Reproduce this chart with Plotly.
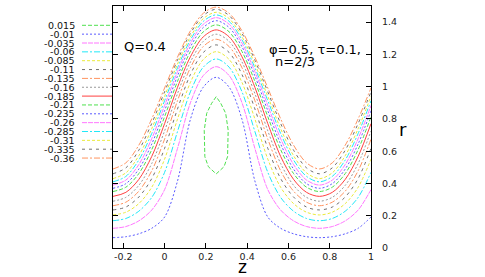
import plotly.graph_objects as go

# axial positions (z) shared by the open streamlines
z = [-0.25, -0.1875, -0.125, -0.0625, 0.0, 0.0625, 0.125, 0.1875, 0.25, 0.3125,
     0.375, 0.4375, 0.5, 0.5625, 0.625, 0.6875, 0.75, 0.8125, 0.875, 0.9375, 1.0]

# streamline labels (psi values)
labels = ["0.015", "-0.01", "-0.035", "-0.06", "-0.085", "-0.11", "-0.135", "-0.16",
          "-0.185", "-0.21", "-0.235", "-0.26", "-0.285", "-0.31", "-0.335", "-0.36"]

# closed (trapped bolus) streamline psi = 0.015
loop_z = [0.25, 0.228, 0.204, 0.192, 0.195, 0.212, 0.25, 0.288, 0.305, 0.308, 0.296, 0.272, 0.25]
loop_r = [0.938, 0.897, 0.835, 0.73, 0.566, 0.504, 0.459, 0.504, 0.566, 0.73, 0.835, 0.897, 0.938]

r_m001 = [0.064, 0.070, 0.088, 0.122, 0.192, 0.415, 0.797, 0.997, 1.058, 0.997, 0.797, 0.415, 0.192, 0.122, 0.088, 0.070, 0.064, 0.070, 0.088, 0.122, 0.192]
r_m035 = [0.122, 0.133, 0.168, 0.235, 0.362, 0.617, 0.900, 1.069, 1.124, 1.069, 0.900, 0.617, 0.362, 0.235, 0.168, 0.133, 0.122, 0.133, 0.168, 0.235, 0.362]
r_m060 = [0.169, 0.183, 0.228, 0.313, 0.469, 0.722, 0.968, 1.121, 1.172, 1.121, 0.968, 0.722, 0.469, 0.313, 0.228, 0.183, 0.169, 0.183, 0.228, 0.313, 0.469]
r_m085 = [0.205, 0.222, 0.275, 0.376, 0.551, 0.799, 1.026, 1.169, 1.217, 1.169, 1.026, 0.799, 0.551, 0.376, 0.275, 0.222, 0.205, 0.222, 0.275, 0.376, 0.551]
r_m110 = [0.236, 0.254, 0.316, 0.430, 0.618, 0.862, 1.075, 1.212, 1.259, 1.212, 1.075, 0.862, 0.618, 0.430, 0.316, 0.254, 0.236, 0.254, 0.316, 0.430, 0.618]
r_m135 = [0.262, 0.284, 0.352, 0.478, 0.675, 0.913, 1.117, 1.249, 1.294, 1.249, 1.117, 0.913, 0.675, 0.478, 0.352, 0.284, 0.262, 0.284, 0.352, 0.478, 0.675]
r_m160 = [0.290, 0.314, 0.388, 0.523, 0.726, 0.957, 1.153, 1.281, 1.325, 1.281, 1.153, 0.957, 0.726, 0.523, 0.388, 0.314, 0.290, 0.314, 0.388, 0.523, 0.726]
r_m185 = [0.320, 0.345, 0.425, 0.567, 0.771, 0.996, 1.185, 1.309, 1.352, 1.309, 1.185, 0.996, 0.771, 0.567, 0.425, 0.345, 0.320, 0.345, 0.425, 0.567, 0.771]
r_m210 = [0.350, 0.377, 0.461, 0.609, 0.814, 1.033, 1.218, 1.340, 1.383, 1.340, 1.218, 1.033, 0.814, 0.609, 0.461, 0.377, 0.350, 0.377, 0.461, 0.609, 0.814]
r_m235 = [0.370, 0.399, 0.489, 0.644, 0.851, 1.066, 1.247, 1.367, 1.409, 1.367, 1.247, 1.066, 0.851, 0.644, 0.489, 0.399, 0.370, 0.399, 0.489, 0.644, 0.851]
r_m260 = [0.390, 0.421, 0.517, 0.677, 0.883, 1.093, 1.270, 1.387, 1.428, 1.387, 1.270, 1.093, 0.883, 0.677, 0.517, 0.421, 0.390, 0.421, 0.517, 0.677, 0.883]
r_m285 = [0.410, 0.444, 0.545, 0.709, 0.913, 1.117, 1.290, 1.405, 1.445, 1.405, 1.290, 1.117, 0.913, 0.709, 0.545, 0.444, 0.410, 0.444, 0.545, 0.709, 0.913]
r_m310 = [0.430, 0.466, 0.572, 0.739, 0.940, 1.140, 1.309, 1.422, 1.461, 1.422, 1.309, 1.140, 0.940, 0.739, 0.572, 0.466, 0.430, 0.466, 0.572, 0.739, 0.940]
r_m335 = [0.460, 0.497, 0.606, 0.771, 0.968, 1.164, 1.330, 1.441, 1.480, 1.441, 1.330, 1.164, 0.968, 0.771, 0.606, 0.497, 0.460, 0.497, 0.606, 0.771, 0.968]
r_m360 = [0.490, 0.528, 0.637, 0.800, 0.992, 1.183, 1.346, 1.455, 1.493, 1.455, 1.346, 1.183, 0.992, 0.800, 0.637, 0.528, 0.490, 0.528, 0.637, 0.800, 0.992]

open_curves = [r_m001, r_m035, r_m060, r_m085, r_m110, r_m135, r_m160, r_m185,
               r_m210, r_m235, r_m260, r_m285, r_m310, r_m335, r_m360]

x_ticks = [-0.2, 0, 0.2, 0.4, 0.6, 0.8, 1]
x_ticktext = ["-0.2", "0", "0.2", "0.4", "0.6", "0.8", "1"]
y_ticks = [0, 0.2, 0.4, 0.6, 0.8, 1, 1.2, 1.4]
y_ticktext = ["0", "0.2", "0.4", "0.6", "0.8", "1", "1.2", "1.4"]

# gnuplot-like cycle of colours / dash patterns (period 9)
styles = [
    ("#4fe04f", "4px,2px"),          # green dashed
    ("#5a5aff", "2px,2px"),          # blue dotted
    ("#ff77ff", "5px,1px"),          # magenta
    ("#22e8f8", "6px,2px,2px,2px"),  # cyan dash-dot
    ("#eaea3a", "3px,2px"),          # yellow
    ("#707070", "3px,4px"),          # gray dashed
    ("#ff9460", "6px,2px,2px,2px"),  # orange dash-dot
    ("#999999", "2px,2px"),          # gray dotted
    ("#ff4040", "solid"),            # red solid
]

FONT = "DejaVu Sans, Verdana, sans-serif"
fig = go.Figure()

col, dash = styles[0]
fig.add_trace(go.Scatter(x=loop_z, y=loop_r, mode="lines", name=labels[0],
                         line=dict(color=col, dash=dash, width=1), showlegend=False))
for i, rv in enumerate(open_curves):
    col, dash = styles[(i + 1) % 9]
    fig.add_trace(go.Scatter(x=z, y=rv, mode="lines", name=labels[i + 1],
                             line=dict(color=col, dash=dash, width=1, shape="spline", smoothing=0.9),
                             showlegend=False))

# hand-made legend on the left: labels then line sample
L, R_, T, B = 113, 371, 6, 248
W, H = R_ - L, B - T
annotations = []
shapes = []
for i, lab in enumerate(labels):
    ypx = 25.3 + 8.85 * i
    yp = (B - ypx) / H
    annotations.append(dict(x=(77 - L) / W, y=yp, xref="paper", yref="paper", text=lab,
                            showarrow=False, xanchor="right", yanchor="middle",
                            font=dict(family=FONT, size=9.5, color="#111")))
    col, dash = styles[i % 9]
    shapes.append(dict(type="line", xref="paper", yref="paper",
                       x0=(82 - L) / W, x1=(112 - L) / W, y0=yp, y1=yp,
                       line=dict(color=col, dash=dash, width=1)))

annotations += [
    dict(x=(122 - L) / W, y=(B - 46) / H, xref="paper", yref="paper", text="Q=0.4",
         showarrow=False, xanchor="left", yanchor="middle", font=dict(family=FONT, size=13, color="#000")),
    dict(x=(267 - L) / W, y=(B - 49.5) / H, xref="paper", yref="paper", text="\u03c6=0.5, \u03c4=0.1,",
         showarrow=False, xanchor="left", yanchor="middle", font=dict(family=FONT, size=13, color="#000")),
    dict(x=(273 - L) / W, y=(B - 61) / H, xref="paper", yref="paper", text="n=2/3",
         showarrow=False, xanchor="left", yanchor="middle", font=dict(family=FONT, size=13, color="#000")),
    dict(x=(242 - L) / W, y=(B - 267) / H, xref="paper", yref="paper", text="z",
         showarrow=False, xanchor="center", yanchor="middle", font=dict(family=FONT, size=17, color="#000")),
    dict(x=(403 - L) / W, y=(B - 129) / H, xref="paper", yref="paper", text="r",
         showarrow=False, xanchor="center", yanchor="middle", font=dict(family=FONT, size=18, color="#000")),
]

fig.update_layout(
    width=485, height=277,
    margin=dict(l=L, r=485 - R_, t=T, b=277 - B),
    paper_bgcolor="white", plot_bgcolor="white",
    annotations=annotations, shapes=shapes,
    xaxis=dict(range=[-0.25, 1], tickvals=x_ticks, ticktext=x_ticktext, ticks="inside", ticklen=5,
               showline=True, linecolor="#000", linewidth=1, mirror="ticks", showgrid=False,
               zeroline=False, tickfont=dict(family=FONT, size=9.5, color="#222"), tickcolor="#000"),
    yaxis=dict(range=[0, 1.5], tickvals=y_ticks, ticktext=y_ticktext, ticks="inside", ticklen=5,
               side="right", showline=True, linecolor="#000", linewidth=1, mirror="ticks",
               showgrid=False, zeroline=False, ticklabelstandoff=8,
               tickfont=dict(family=FONT, size=9.5, color="#222"), tickcolor="#000"),
)
fig.write_html("out.html", config={"displayModeBar": False, "staticPlot": True},
               post_script="document.body.style.margin='0px';document.body.style.overflow='hidden';")
